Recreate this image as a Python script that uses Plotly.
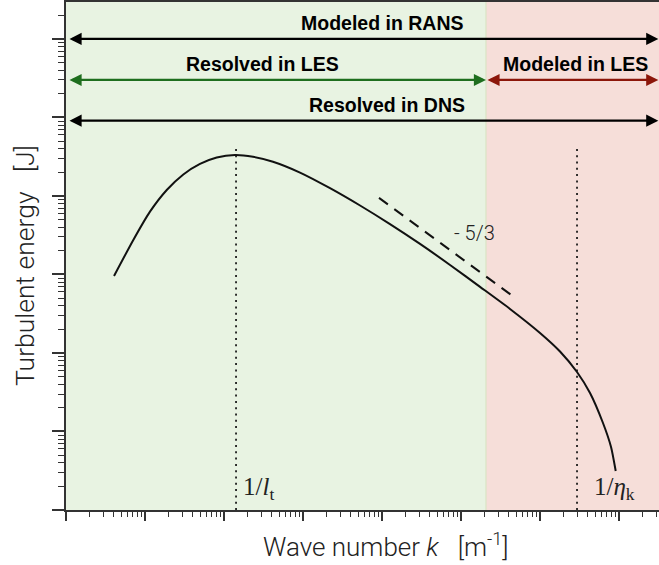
import numpy as np
import plotly.graph_objects as go

# ---- data (log-log) ----
k_curve = [4.055, 7.112, 11.56, 18.84, 30.55, 49.66, 80.91, 137.7, 232.8, 416.9, 916.2,
           2198, 5272, 12620, 30270, 72610, 174200, 416900, 1.0e6, 1.791e6, 2.938e6,
           4.295e6, 6.266e6, 7.925e6, 9.078e6]
E_curve = [957.2, 2748, 6310, 11910, 18790, 25590, 30900, 33270, 31550, 27290, 19860,
           12560, 7551, 4375, 2449, 1321, 695.0, 363.9, 179.9, 104.5, 57.28, 30.90,
           12.82, 6.353, 3.141]

k_slope = [9160, 469000]
E_slope = [9440, 516]

k_lt = 142          # 1/l_t
k_eta = 2.94e6      # 1/eta_k
E_dot_top = 44670

k_min, k_max = 1, 10 ** 7.506
E_min, E_max = 1, 10 ** 6.47
k_cut = 207000      # LES filter cut-off

E_rans = 1.0e6
E_les = 3.0e5
E_dns = 9.1e4

lab_rans = "Modeled in RANS"
lab_les_res = "Resolved in LES"
lab_les_mod = "Modeled in LES"
lab_dns = "Resolved in DNS"
x_title = "Wave number <i>k</i>   [m<sup>-1</sup>]"
y_title = "Turbulent energy   [J]"

GREEN_BG = "rgb(232,243,226)"
RED_BG = "rgb(246,222,217)"
GREEN = "rgb(30,110,30)"
RED = "rgb(140,22,10)"
AX = "#333333"

fig = go.Figure()

# main spectrum
fig.add_trace(go.Scatter(x=k_curve, y=E_curve, mode="lines",
                         line=dict(color="#111111", width=2, shape="spline", smoothing=0.6),
                         showlegend=False, hoverinfo="skip"))
# -5/3 slope
fig.add_trace(go.Scatter(x=k_slope, y=E_slope, mode="lines",
                         line=dict(color="#111111", width=2, dash="11px,8px"),
                         showlegend=False, hoverinfo="skip"))
# dotted verticals
for kv in (k_lt, k_eta):
    fig.add_trace(go.Scatter(x=[kv, kv], y=[E_min, E_dot_top], mode="lines",
                             line=dict(color="#111111", width=1.7, dash="2px,4.3px"),
                             showlegend=False, hoverinfo="skip"))

shapes = [
    dict(type="rect", xref="x", yref="y", x0=k_min, x1=k_cut, y0=E_min, y1=E_max,
         fillcolor=GREEN_BG, line=dict(width=0), layer="below"),
    dict(type="rect", xref="x", yref="y", x0=k_cut, x1=k_max, y0=E_min, y1=E_max,
         fillcolor=RED_BG, line=dict(width=0), layer="below"),
    dict(type="line", xref="x", yref="y", x0=k_cut, x1=k_cut, y0=E_min, y1=E_max,
         line=dict(color="rgb(218,228,196)", width=1.2), layer="below"),
]

L = np.log10
annotations = []


def arrow(x0, x1, y, color):
    annotations.append(dict(x=L(x1), y=L(y), ax=L(x0), ay=L(y), xref="x", yref="y",
                            axref="x", ayref="y", text="", showarrow=True,
                            arrowhead=2, startarrowhead=2, arrowside="end+start",
                            arrowsize=1.1, startarrowsize=1.1, arrowwidth=2.2,
                            arrowcolor=color, standoff=0, startstandoff=0))


arrow(k_min * 1.06, k_max * 0.98, E_rans, "black")
arrow(k_min * 1.06, k_cut, E_les, GREEN)
arrow(k_cut, k_max * 0.98, E_les, RED)
arrow(k_min * 1.06, k_max * 0.98, E_dns, "black")

bold = dict(family="Liberation Sans, Arial, sans-serif", size=19.5, color="black", weight="bold")


def label(text, xpix_k, ylog_off, Eref):
    annotations.append(dict(x=L(xpix_k), y=L(Eref), xref="x", yref="y", text=text,
                            showarrow=False, font=bold, yshift=ylog_off,
                            xanchor="center", yanchor="middle"))


label(lab_rans, 10 ** ((382 - 66) / 79), 16, E_rans)
label(lab_les_res, 10 ** ((262.5 - 66) / 79), 16, E_les)
label(lab_les_mod, 10 ** ((575 - 66) / 79), 16, E_les)
label(lab_dns, 10 ** ((386.5 - 66) / 79), 16, E_dns)

light = dict(family="Roboto, Inter, sans-serif", size=20, color="#222222", weight=300)
annotations.append(dict(x=L(k_slope[1]) - 0.5, y=L(E_slope[0]) - 0.45, xref="x", yref="y",
                        text="- 5/3", showarrow=False, font=light,
                        xanchor="center", yanchor="middle"))

serif = dict(family="Liberation Serif, DejaVu Serif, serif", size=25, color="#222222")
annotations.append(dict(x=L(k_lt), y=0.28, xref="x", yref="y", text="1/<i>l</i><sub>t</sub>",
                        showarrow=False, font=serif, xanchor="left", yanchor="middle", xshift=5))
annotations.append(dict(x=L(k_eta), y=0.28, xref="x", yref="y", text="1/<i>η</i><sub>k</sub>",
                        showarrow=False, font=serif, xanchor="left", yanchor="middle", xshift=15))

title_font = dict(family="Roboto, Inter, sans-serif", size=26, color="#222222", weight=300)

# axis titles (positioned as in the reference, whose right side is clipped)
annotations.append(dict(x=(386 - 66) / 593, y=(510 - 545) / 508, xref="paper", yref="paper",
                        text=x_title, showarrow=False, font=title_font,
                        xanchor="center", yanchor="middle"))
annotations.append(dict(x=(24 - 66) / 593, y=(510 - 266) / 508, xref="paper", yref="paper",
                        text=y_title, showarrow=False, font=dict(title_font, size=26.5),
                        textangle=-90, xanchor="center", yanchor="middle"))

fig.update_layout(
    width=659, height=565,
    margin=dict(l=66, r=0, t=2, b=55),
    paper_bgcolor="white", plot_bgcolor="white",
    shapes=shapes, annotations=annotations,
    showlegend=False,
    xaxis=dict(type="log", range=[0, 7.506], showgrid=False, zeroline=False,
               showticklabels=False, ticks="outside", ticklen=9, tickwidth=1.5,
               tickcolor=AX, dtick=1, showline=True, linecolor=AX, linewidth=2,
               mirror=True,
               minor=dict(ticks="outside", ticklen=5, tickwidth=1.3, tickcolor=AX,
                          dtick="D1", showgrid=False)),
    yaxis=dict(type="log", range=[0, 6.47], showgrid=False, zeroline=False,
               showticklabels=False, ticks="outside", ticklen=12, tickwidth=1.5,
               tickcolor=AX, dtick=1, showline=True, linecolor=AX, linewidth=2,
               minor=dict(ticks="outside", ticklen=6, tickwidth=1.3, tickcolor=AX,
                          dtick="D1", showgrid=False)),
)

fig.write_html("out.html")
